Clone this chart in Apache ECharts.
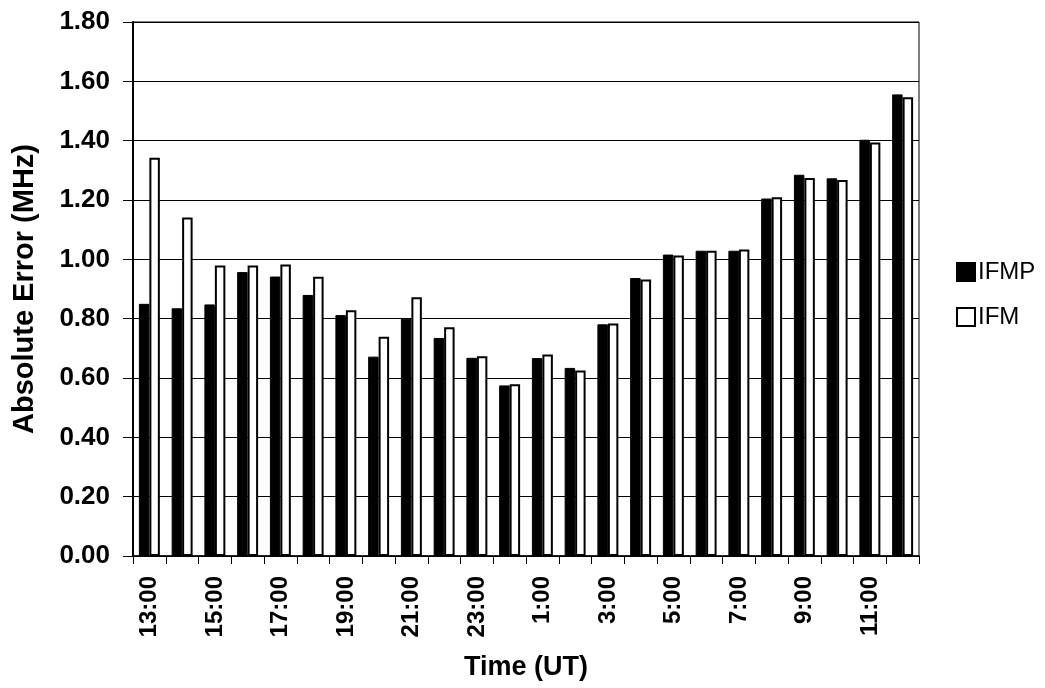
<!DOCTYPE html>
<html>
<head>
<meta charset="utf-8">
<script src="https://cdn.jsdelivr.net/npm/echarts@6/dist/echarts.min.js"></script>
<style>
html,body{margin:0;padding:0;background:#fff;}
#chart{width:1045px;height:688px;}
</style>
</head>
<body>
<div id="chart"></div>
<script>
const categories = ["13:00","14:00","15:00","16:00","17:00","18:00","19:00","20:00","21:00","22:00","23:00","0:00",
  "1:00","2:00","3:00","4:00","5:00","6:00","7:00","8:00","9:00","10:00","11:00","12:00"];
const ifmp = [0.85,0.835,0.848,0.957,0.942,0.88,0.812,0.672,0.80,0.735,0.668,0.575,
  0.667,0.634,0.781,0.937,1.016,1.029,1.029,1.205,1.285,1.273,1.403,1.556];
const ifm = [1.342,1.141,0.979,0.979,0.983,0.941,0.828,0.739,0.872,0.771,0.673,0.579,
  0.679,0.625,0.784,0.932,1.013,1.029,1.033,1.209,1.274,1.267,1.394,1.546];
const yTicks = {min:0, max:1.8, interval:0.2};

const FONT = '"Liberation Sans", Arial, sans-serif';
const chart = echarts.init(document.getElementById('chart'), null, {renderer:'canvas'});
chart.setOption({
  backgroundColor:'#fff',
  animation:false,
  grid:{left:133, right:126, top:22, bottom:132, show:true, borderColor:'#000', borderWidth:1, backgroundColor:'#fff'},
  legend:{
    orient:'vertical', left:951, top:255, itemWidth:18, itemHeight:18, itemGap:21,
    textStyle:{fontFamily:FONT, fontSize:24, color:'#000', padding:[0,0,0,-2]},
    data:[{name:'IFMP', icon:'rect'},{name:'IFM', icon:'rect'}]
  },
  xAxis:{
    type:'category', data:categories,
    axisLine:{lineStyle:{color:'#000', width:1.5}},
    axisTick:{show:true, interval:0, length:8, lineStyle:{color:'#000'}},
    axisLabel:{interval:1, rotate:90, margin:20, fontFamily:FONT, fontWeight:'bold', fontSize:24, color:'#000'},
    name:'Time (UT)', nameLocation:'middle', nameGap:98,
    nameTextStyle:{fontFamily:FONT, fontWeight:'bold', fontSize:27, color:'#000'}
  },
  yAxis:{
    type:'value', min:yTicks.min, max:yTicks.max, interval:yTicks.interval,
    axisLine:{show:true, lineStyle:{color:'#000', width:2}},
    axisTick:{show:true, length:10, lineStyle:{color:'#000'}},
    axisLabel:{margin:23, fontFamily:FONT, fontWeight:'bold', fontSize:26, color:'#000',
      formatter:v=>v.toFixed(2)},
    splitLine:{show:true, lineStyle:{color:'#000', width:1}},
    name:'Absolute Error (MHz)', nameLocation:'middle', nameGap:94,
    nameTextStyle:{fontFamily:FONT, fontWeight:'bold', fontSize:29, color:'#000'}
  },
  series:[
    {name:'IFMP', type:'bar', data:ifmp, barGap:'0%', barCategoryGap:'36%',
     itemStyle:{color:'#000', borderColor:'#000', borderWidth:1}},
    {name:'IFM', type:'bar', data:ifm,
     itemStyle:{color:'#fff', borderColor:'#000', borderWidth:2}}
  ]
});
</script>
</body>
</html>
